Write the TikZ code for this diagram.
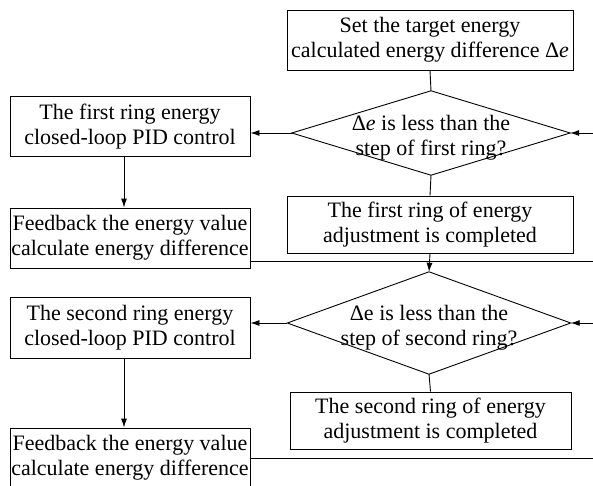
\documentclass[tikz,border=0pt]{standalone}
\usepackage{fontspec}
\setmainfont{Liberation Serif}
\usetikzlibrary{arrows.meta}
\tikzset{
  box/.style={draw,line width=0.9pt,align=center,inner sep=0pt,
    font=\fontsize{22}{25}\selectfont},
  dia/.style={inner sep=0pt},
  diatext/.style={align=center,inner sep=0pt,
    font=\fontsize{22}{25}\selectfont},
  diaedge/.style={line width=0.9pt},
  conn/.style={line width=0.9pt},
  arr/.style={line width=0.9pt,-{Latex[length=9pt,width=6pt]}}
}
\begin{document}
\begin{tikzpicture}[x=1pt,y=-1pt]
\useasboundingbox (0,0) rectangle (593,486);
\fill[white] (0,0) rectangle (593,486);
\clip (0,0) rectangle (593,486);
% right column
\node[box,minimum width=286pt,minimum height=60pt] (top) at (430,40)
  {Set the target energy\\calculated energy difference Δ\textit{e}};
\node[dia,minimum width=278pt,minimum height=84pt] (d1) at (431,133) {};
\draw[diaedge] (d1.north) -- (d1.east) -- (d1.south) -- (d1.west) -- cycle;
\node[diatext,yshift=-5pt] (d1t) at (d1) {Δ\textit{e} is less than the\\step of first ring?};
\node[box,minimum width=286pt,minimum height=57pt] (c1) at (430,224.5)
  {The first ring of energy\\adjustment is completed};
\node[dia,minimum width=283pt,minimum height=102pt] (d2) at (429,323) {};
\draw[diaedge] (d2.north) -- (d2.east) -- (d2.south) -- (d2.west) -- cycle;
\node[diatext,yshift=-5pt] (d2t) at (d2) {Δe is less than the\\step of second ring?};
\node[box,minimum width=281pt,minimum height=57pt] (c2) at (430.5,420.5)
  {The second ring of energy\\adjustment is completed};
% left column
\node[box,minimum width=240pt,minimum height=60pt] (p1) at (130,126.5)
  {The first ring energy\\closed-loop PID control};
\node[box,minimum width=240pt,minimum height=60pt] (f1) at (130,238)
  {Feedback the energy value\\calculate energy difference};
\node[box,minimum width=240pt,minimum height=61pt] (p2) at (130,327.5)
  {The second ring energy\\closed-loop PID control};
\node[box,minimum width=240pt,minimum height=60pt] (f2) at (130,458)
  {Feedback the energy value\\calculate energy difference};
% free ends at the right border
\coordinate (r1) at (593,133);
\coordinate (r2) at (593,323);
\coordinate (o1) at (593,261);
\coordinate (o2) at (593,458);
% connectors
\draw[conn] (top.south) -- (d1.north);
\draw[conn] (d1.south) -- (c1.north);
\draw[arr] (c1.south) -- (d2.north);
\draw[conn] (d2.south) -- (c2.north);
\draw[arr] (r1) -- (d1.east);
\draw[arr] (r2) -- (d2.east);
\draw[arr] (d1.west) -- (d1.west -| p1.east);
\draw[arr] (d2.west) -- (d2.west -| p2.east);
\draw[arr] ([xshift=-6pt]p1.south) -- ([xshift=-6pt]f1.north);
\draw[arr] ([xshift=-6pt]p2.south) -- ([xshift=-6pt]f2.north);
\draw[conn] (o1 -| f1.east) -- (o1);
\draw[conn] (o2 -| f2.east) -- (o2);
\end{tikzpicture}
\end{document}
